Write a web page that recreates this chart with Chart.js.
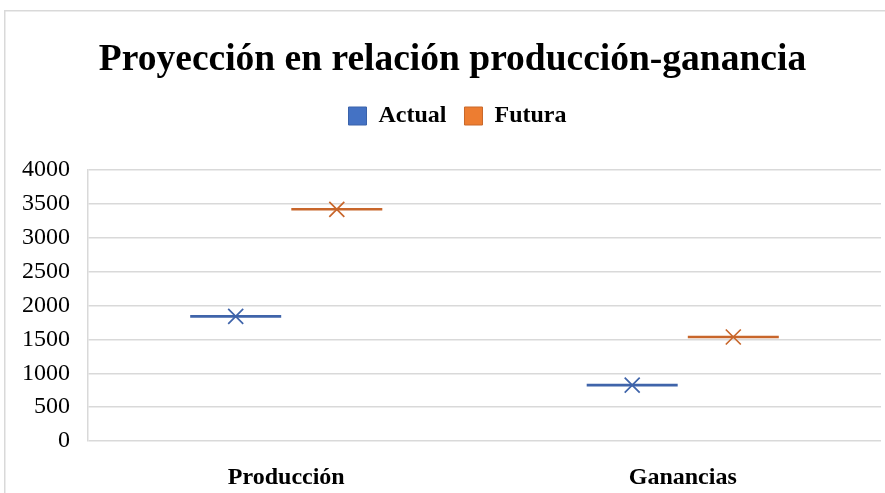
<!DOCTYPE html>
<html>
<head>
<meta charset="utf-8">
<script src="https://cdn.jsdelivr.net/npm/chart.js@4/dist/chart.umd.min.js"></script>
<style>
  html, body { margin: 0; padding: 0; background: #fff; }
  #wrap { position: relative; width: 885px; height: 493px; }
  canvas { display: block; }
</style>
</head>
<body>
<div id="wrap"><canvas id="c" width="885" height="493"></canvas></div>
<script>
const categories = ['Producción', 'Ganancias'];
const seriesNames = ['Actual', 'Futura'];
const actualValues = [1840, 825];
const futuraValues = [3420, 1535];
const yTicks = [0, 500, 1000, 1500, 2000, 2500, 3000, 3500, 4000];

const legendColors = ['#4472C4', '#ED7D31'];
const legendBorders = ['#3A62AA', '#C9692A'];
const markColors = ['#3F64AA', '#C8662B'];

const serif = "'Liberation Serif', 'Times New Roman', serif";

const frame = {
  id: 'frame',
  beforeDraw(chart) {
    const ctx = chart.ctx;
    ctx.save();
    ctx.strokeStyle = '#D9D9D9';
    ctx.lineWidth = 1.5;
    ctx.beginPath();
    ctx.moveTo(4.75, 493);
    ctx.lineTo(4.75, 10.75);
    ctx.lineTo(885, 10.75);
    ctx.stroke();
    ctx.restore();
  }
};

const headerShift = {
  id: 'headerShift',
  beforeInit(chart) {
    const origFit = chart.legend.fit;
    chart.legend.fit = function () {
      origFit.call(this);
      this.height += 32;
    };
  },
  afterLayout(chart) {
    chart.legend.left += 9;
    chart.legend.right += 9;
    if (chart.titleBlock) {
      chart.titleBlock.left += 4;
      chart.titleBlock.right += 4;
    }
  }
};

const marks = {
  id: 'marks',
  afterDatasetsDraw(chart) {
    const ctx = chart.ctx;
    chart.data.datasets.forEach((ds, di) => {
      const meta = chart.getDatasetMeta(di);
      meta.data.forEach(el => {
        const x = el.x, y = el.y, w = el.width;
        ctx.save();
        ctx.strokeStyle = markColors[di];
        ctx.lineWidth = 2.6;
        ctx.beginPath();
        ctx.moveTo(x - w / 2, y);
        ctx.lineTo(x + w / 2, y);
        ctx.stroke();
        const s = 7.5;
        ctx.lineWidth = 1.7;
        ctx.beginPath();
        ctx.moveTo(x - s, y - s);
        ctx.lineTo(x + s, y + s);
        ctx.moveTo(x + s, y - s);
        ctx.lineTo(x - s, y + s);
        ctx.stroke();
        ctx.restore();
      });
    });
  }
};

new Chart(document.getElementById('c'), {
  type: 'bar',
  data: {
    labels: categories,
    datasets: [
      { label: seriesNames[0], data: actualValues, backgroundColor: 'rgba(0,0,0,0)', borderWidth: 0 },
      { label: seriesNames[1], data: futuraValues, backgroundColor: 'rgba(0,0,0,0)', borderWidth: 0 }
    ]
  },
  options: {
    responsive: false,
    maintainAspectRatio: false,
    animation: false,
    devicePixelRatio: 1,
    layout: { padding: { left: 16, right: 4, top: 0, bottom: 1 } },
    datasets: { bar: { categoryPercentage: 0.51, barPercentage: 0.9 } },
    plugins: {
      tooltip: { enabled: false },
      title: {
        display: true,
        text: 'Proyección en relación producción-ganancia',
        color: '#000',
        font: { family: serif, size: 37.5, weight: 'bold' },
        padding: { top: 37.5, bottom: 3.5 }
      },
      legend: {
        display: true,
        position: 'top',
        labels: {
          color: '#000',
          font: { family: serif, size: 24, weight: 'bold' },
          boxWidth: 18,
          boxHeight: 18,
          padding: 18,
          generateLabels(chart) {
            return chart.data.datasets.map((ds, i) => ({
              text: ds.label,
              fillStyle: legendColors[i],
              strokeStyle: legendBorders[i],
              lineWidth: 1,
              fontColor: '#000',
              datasetIndex: i,
              hidden: false
            }));
          }
        }
      }
    },
    scales: {
      x: {
        grid: { display: false, drawTicks: false },
        border: { display: false },
        ticks: {
          color: '#000',
          font: { family: serif, size: 24, weight: 'bold' },
          padding: 22,
          maxRotation: 0
        },
        afterFit(scale) { scale.height = 51; }
      },
      y: {
        min: 0,
        max: 4000,
        afterBuildTicks(axis) { axis.ticks = yTicks.map(v => ({ value: v })); },
        grid: { color: '#D9D9D9', lineWidth: 1.5, drawTicks: false },
        border: { display: true, color: '#D9D9D9', width: 1.5 },
        ticks: {
          color: '#000',
          font: { family: serif, size: 24 },
          padding: 18,
          autoSkip: false,
          callback: (v) => String(v)
        },
        afterFit(scale) { scale.width = 72; }
      }
    }
  },
  plugins: [frame, headerShift, marks]
});
</script>
</body>
</html>
